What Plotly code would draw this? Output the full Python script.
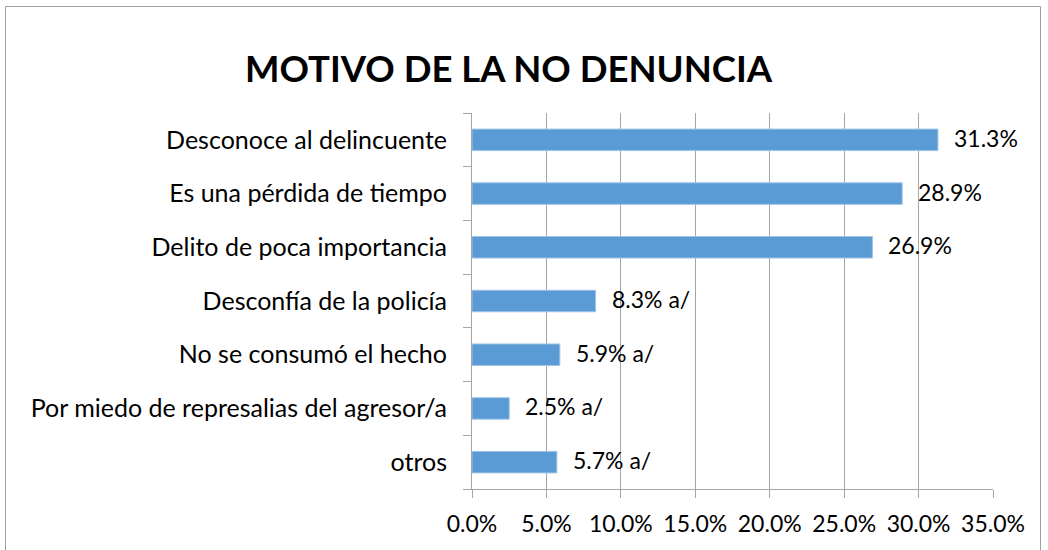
import plotly.graph_objects as go

categories = [
    "Desconoce al delincuente",
    "Es una pérdida de tiempo",
    "Delito de poca importancia",
    "Desconfía de la policía",
    "No se consumó el hecho",
    "Por miedo de represalias del agresor/a",
    "otros",
]
values = [31.3, 28.9, 26.9, 8.3, 5.9, 2.5, 5.7]
label_suffix = ["", "", "", " a/", " a/", " a/", " a/"]
x_ticks = [0, 5, 10, 15, 20, 25, 30, 35]

W, H = 1048, 550
L, R, T, B = 472, 55, 113, 61
pw, ph = W - L - R, H - T - B

def px_x(p):
    return (p - L) / pw

def px_y(p):
    return (H - B - p) / ph

FONT = "Lato"
LBL = 23
GRID = "#a6a6a6"

fig = go.Figure()
fig.add_trace(go.Bar(
    y=categories, x=values, orientation="h",
    marker=dict(color="#5B9BD5", line=dict(color="#9dc3e6", width=1)),
    width=0.4,
    hoverinfo="skip",
))

annotations = []
for c, v, s in zip(categories, values, label_suffix):
    annotations.append(dict(
        x=v, y=c, xref="x", yref="y", text=f"{v:.1f}%{s}",
        showarrow=False, xanchor="left", yanchor="middle", xshift=14, yshift=2,
        font=dict(family=FONT, size=LBL, color="#000000"),
    ))

annotations.append(dict(
    x=px_x(509), y=px_y(68), xref="paper", yref="paper",
    text="<b>MOTIVO DE LA NO DENUNCIA</b>", showarrow=False,
    xanchor="center", yanchor="middle",
    font=dict(family=FONT, size=36.5, color="#000000"),
))

fig.update_layout(
    width=W, height=H,
    margin=dict(l=L, r=R, t=T, b=B, pad=0),
    paper_bgcolor="white", plot_bgcolor="white",
    showlegend=False,
    annotations=annotations,
    shapes=[dict(
        type="rect", xref="paper", yref="paper",
        x0=px_x(5.5), x1=px_x(1040.5), y0=px_y(560), y1=px_y(6.5),
        line=dict(color="#a0a0a0", width=1), fillcolor="rgba(0,0,0,0)", layer="below",
    )],
    xaxis=dict(
        range=[0, 35], tickvals=x_ticks, ticktext=[f"{t:.1f}%" for t in x_ticks],
        showgrid=True, gridcolor=GRID, gridwidth=1,
        showline=True, linecolor=GRID, linewidth=1,
        ticks="outside", ticklen=8, tickcolor=GRID, ticklabelstandoff=6,
        tickfont=dict(family=FONT, size=LBL, color="#000000"),
        zeroline=False, fixedrange=True,
    ),
    yaxis=dict(
        categoryorder="array", categoryarray=categories[::-1],
        autorange=False, range=[-0.5, 6.5],
        showline=True, linecolor=GRID, linewidth=1,
        ticks="outside", ticklen=8, tickcolor=GRID, tickson="boundaries",
        ticklabelstandoff=19,
        tickfont=dict(family=FONT, size=25, color="#000000"),
        showgrid=False, zeroline=False, fixedrange=True,
    ),
    bargap=0.6,
)

fig.write_html("out.html", config={"displayModeBar": False},
               post_script="document.body.style.margin='0';")
